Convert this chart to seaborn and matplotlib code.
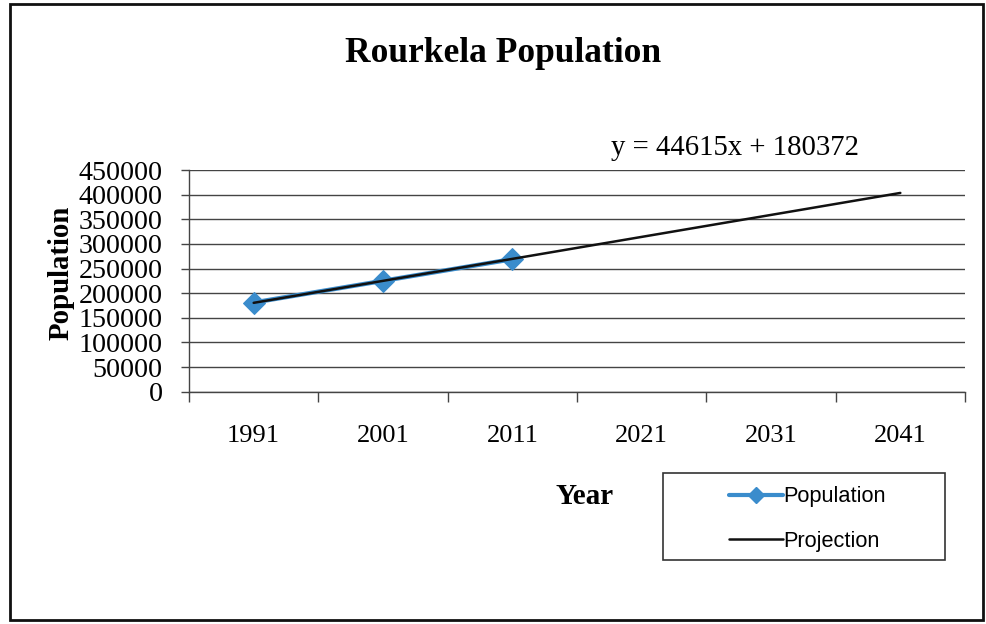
import matplotlib
matplotlib.use("Agg")
import matplotlib.pyplot as plt
from matplotlib.patches import Rectangle
from matplotlib.lines import Line2D
import seaborn as sns
import pandas as pd

# Census years and projection horizon
years = ["1991", "2001", "2011", "2021", "2031", "2041"]
population = [181000, 225000, 269000]
projection = [180372, 224987, 269602, 314217, 358832, 403447]
y_ticks = [0, 50000, 100000, 150000, 200000, 250000, 300000, 350000, 400000, 450000]

sns.set_theme(style="white")
plt.rcParams["font.family"] = ["Liberation Serif", "DejaVu Serif"]
plt.rcParams["text.color"] = "black"
plt.rcParams["xtick.labelcolor"] = "black"
plt.rcParams["ytick.labelcolor"] = "black"

W, H = 986, 624
fig = plt.figure(figsize=(W / 100, H / 100), dpi=100)
fig.patch.set_facecolor("white")

left, right, top, bottom = 189, 965, 170, 391.7
ax = fig.add_axes([left / W, 1 - bottom / H, (right - left) / W, (bottom - top) / H])
ax.set_facecolor("white")

pop_df = pd.DataFrame({"pos": range(len(population)), "value": population})
proj_df = pd.DataFrame({"pos": range(len(projection)), "value": projection})

blue = "#3a8ccc"
sns.lineplot(data=pop_df, x="pos", y="value", ax=ax, color=blue, linewidth=3.2,
             marker="D", markersize=11, markeredgecolor=blue, zorder=3)
sns.lineplot(data=proj_df, x="pos", y="value", ax=ax, color="#111111",
             linewidth=1.8, zorder=4)

ax.set_xlim(-0.5, len(years) - 0.5)
ax.set_ylim(0, 450000)

# Value axis
ax.set_yticks(y_ticks)
ax.set_yticklabels([str(v) for v in y_ticks], fontsize=20.2)
ax.yaxis.grid(True, color="#444444", linewidth=1.0)
ax.tick_params(axis="y", direction="out", length=6, width=1, color="#444444",
               pad=13, left=True)

# Category axis: boundary ticks without labels, labels at category centres
ax.set_xticks([i - 0.5 for i in range(len(years) + 1)])
ax.set_xticklabels([])
ax.set_xticks(range(len(years)), minor=True)
ax.set_xticklabels(years, minor=True, fontsize=19)
ax.tick_params(axis="x", which="major", direction="out", length=7, width=1,
               color="#444444", bottom=True)
ax.tick_params(axis="x", which="minor", length=0, pad=24)

for side in ("top", "right"):
    ax.spines[side].set_visible(False)
for side in ("left", "bottom"):
    ax.spines[side].set_color("#444444")
    ax.spines[side].set_linewidth(1.0)

ax.set_xlabel("")
ax.set_ylabel("")

fig.text(61 / W, 1 - 273 / H, "Population", rotation=90, fontsize=20.7,
         fontweight="bold", ha="center", va="center")
fig.text(585 / W, 1 - 496 / H, "Year", fontsize=21, fontweight="bold",
         ha="center", va="center")
fig.text(503 / W, 1 - 53 / H, "Rourkela Population", fontsize=25.5,
         fontweight="bold", ha="center", va="center")
fig.text(735 / W, 1 - 148 / H, "y = 44615x + 180372", fontsize=20.7,
         ha="center", va="center")

# Legend
handles = [
    Line2D([], [], color=blue, linewidth=3, marker="D", markersize=8),
    Line2D([], [], color="#111111", linewidth=1.8),
]
leg = fig.legend(handles, ["Population", "Projection"], loc="center left",
                 bbox_to_anchor=(718 / W, 1 - 519 / H), frameon=False,
                 borderpad=0, handlelength=2.5, handletextpad=0.0,
                 labelspacing=1.08,
                 prop={"family": ["Liberation Sans", "DejaVu Sans"], "size": 15.7})
fig.add_artist(Rectangle((663 / W, 1 - 560 / H), (945 - 663) / W, (560 - 473) / H,
                         transform=fig.transFigure, fill=False,
                         edgecolor="#333333", linewidth=1.2))

# Outer chart border
fig.add_artist(Rectangle((10 / W, 1 - 620 / H), (983 - 10) / W, (620 - 4) / H,
                         transform=fig.transFigure, fill=False,
                         edgecolor="#111111", linewidth=2))

fig.savefig("out.png", dpi=100, facecolor="white")
